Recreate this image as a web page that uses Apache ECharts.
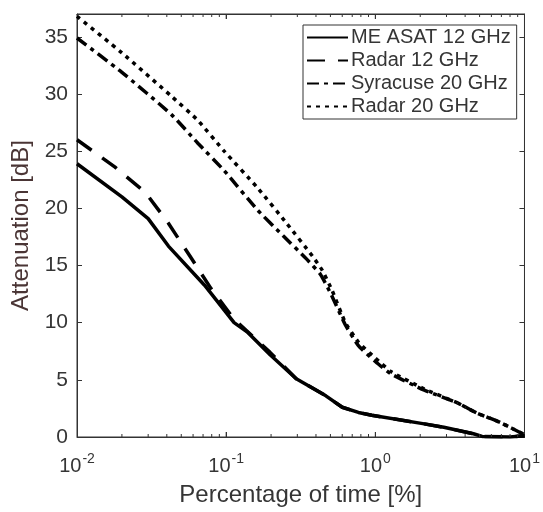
<!DOCTYPE html>
<html><head><meta charset="utf-8">
<script src="https://cdn.jsdelivr.net/npm/echarts@6/dist/echarts.min.js"></script>
<style>html,body{margin:0;padding:0;background:#fff}#c{width:543px;height:512px}</style>
</head><body><div id="c"></div>
<script>
const seriesNames = ['ME ASAT 12 GHz', 'Radar 12 GHz', 'Syracuse 20 GHz', 'Radar 20 GHz'];
const xTickLabels = ['10^-2', '10^-1', '10^0', '10^1'];
const xMajorTicks = [0.1, 1];
const yTickLabels = [0, 5, 10, 15, 20, 25, 30, 35];
const xMinorTicks = [0.02, 0.03, 0.04, 0.05, 0.06, 0.07, 0.08, 0.09, 0.2, 0.3, 0.4, 0.5, 0.6, 0.7, 0.8, 0.9, 2, 3, 4, 5, 6, 7, 8, 9];

const measatX = [0.01, 0.02, 0.03, 0.041, 0.0714, 0.113, 0.138, 0.197, 0.295, 0.466, 0.6, 0.77, 0.946, 2.13, 2.88, 4.55, 5.2, 8, 10];
const measatY = [23.9, 21.0, 19.1, 16.7, 13.3, 10.0, 9.2, 7.2, 5.1, 3.6, 2.6, 2.15, 1.9, 1.15, 0.85, 0.28, 0.05, 0.0, 0.1];

const radar12X = [0.01, 0.018, 0.0287, 0.041, 0.058, 0.079, 0.113, 0.197, 0.295, 0.466, 0.6, 0.77, 0.946, 2.13, 2.88, 4.55, 5.2, 8, 10];
const radar12Y = [26.0, 23.6, 21.4, 18.7, 15.7, 13.0, 10.3, 7.4, 5.1, 3.6, 2.6, 2.15, 1.9, 1.15, 0.85, 0.28, 0.05, 0.0, 0.1];

const syracuseX = [0.01, 0.02, 0.043, 0.0646, 0.097, 0.161, 0.241, 0.344, 0.43, 0.5, 0.63, 0.77, 1.0, 1.28, 2.13, 3.53, 4.79, 6.8, 10];
const syracuseY = [34.9, 31.9, 28.2, 25.7, 23.3, 19.9, 17.6, 15.6, 14.2, 12.6, 9.8, 8.0, 6.6, 5.5, 4.1, 3.0, 2.1, 1.3, 0.2];

const radar20X = [0.01, 0.02, 0.043, 0.0646, 0.097, 0.161, 0.254, 0.38, 0.44, 0.51, 0.63, 0.77, 1.0, 1.28, 2.13, 3.53, 4.79, 6.8, 10];
const radar20Y = [36.8, 33.6, 29.8, 27.7, 25.0, 21.85, 18.7, 15.8, 14.6, 12.9, 10.0, 8.3, 6.9, 5.7, 4.2, 3.0, 2.1, 1.3, 0.2];

function pairs(xs, ys) { return xs.map((x, i) => [x, ys[i]]); }

const Y_MIN = 0, Y_MAX = 37;
const txt = '#353535';
const font = 'Liberation Sans, Arial, sans-serif';
const chart = echarts.init(document.getElementById('c'), null, {renderer: 'canvas'});

const logBase = {
  type: 'log', logBase: 10, min: 0.01, max: 10,
  axisLine: {show: true, onZero: false, lineStyle: {color: '#333', width: 1}},
  axisTick: {show: true, inside: true, length: 5, lineStyle: {color: '#333'}},
  splitLine: {show: false}
};
const valBase = {
  type: 'value', min: Y_MIN, max: Y_MAX, interval: 5,
  axisLine: {show: true, onZero: false, lineStyle: {color: '#333', width: 1}},
  axisTick: {show: true, inside: true, length: 5, customValues: yTickLabels, lineStyle: {color: '#333'}},
  splitLine: {show: false}
};

const lineTypes = ['solid', [18, 13], [12, 5, 4, 5], [4, 5]];
const datas = [pairs(measatX, measatY), pairs(radar12X, radar12Y), pairs(syracuseX, syracuseY), pairs(radar20X, radar20Y)];
const order = [1, 0, 2, 3];

// small frame tick marks placed through the x scale, as thin rect symbols
function tickMarks(values, yv, len, dir) {
  return {
    type: 'scatter', silent: true, z: 6, clip: false,
    xAxisIndex: 0, yAxisIndex: 0,
    data: values.map(v => [v, yv]),
    symbol: 'rect', symbolSize: [1, len], symbolOffset: [0, dir * len / 2],
    itemStyle: {color: '#333', opacity: 1},
    emphasis: {disabled: true}
  };
}

const lineSeries = order.map(i => ({
  name: seriesNames[i], type: 'line', xAxisIndex: 0, yAxisIndex: 0,
  data: datas[i], symbol: 'none', smooth: i >= 2 ? 0.15 : false, z: 3,
  lineStyle: {color: '#000', width: 3.5, type: lineTypes[i], cap: 'butt'},
  itemStyle: {color: '#000'}
}));

chart.setOption({
  animation: false,
  backgroundColor: '#fff',
  grid: {left: 77, right: 11, top: 14, bottom: 67, show: true, borderColor: '#333', borderWidth: 1, backgroundColor: '#fff'},
  legend: {
    orient: 'vertical', left: 303, top: 25,
    data: seriesNames,
    itemWidth: 41, itemHeight: 12, itemGap: 0,
    padding: [1, 6, 1, 3],
    backgroundColor: '#fff', borderColor: '#333', borderWidth: 1,
    itemStyle: {opacity: 0},
    textStyle: {fontFamily: font, fontSize: 20, color: txt, lineHeight: 23, padding: [0, 0, 0, -2]}
  },
  xAxis: [
    Object.assign({}, logBase, {
      position: 'bottom',
      name: 'Percentage of time [%]', nameLocation: 'middle', nameGap: 46,
      nameTextStyle: {fontFamily: font, fontSize: 24, color: txt},
      axisLabel: {
        margin: 15,
        formatter: function (v) {
          const e = Math.round(Math.log10(v));
          const lab = xTickLabels.find(s => s === '10^' + e) || ('10^' + e);
          const p = lab.split('^');
          return '{b|' + p[0] + '}{s|' + p[1] + '}';
        },
        rich: {
          b: {fontFamily: font, fontSize: 20, color: txt, lineHeight: 24, verticalAlign: 'bottom'},
          s: {fontFamily: font, fontSize: 14, color: txt, lineHeight: 24, verticalAlign: 'top', padding: [0, 0, 0, 1]}
        }
      }
    }),
    Object.assign({}, logBase, {position: 'top', axisLabel: {show: false}})
  ],
  yAxis: [
    Object.assign({}, valBase, {
      position: 'left',
      name: 'Attenuation [dB]', nameLocation: 'middle', nameGap: 36,
      nameTextStyle: {fontFamily: font, fontSize: 24, color: '#4a3535'},
      axisLabel: {margin: 9, fontFamily: font, fontSize: 21, color: txt,
        customValues: yTickLabels, formatter: v => String(v)}
    }),
    Object.assign({}, valBase, {position: 'right', axisLabel: {show: false}})
  ],
  series: lineSeries.concat([
    tickMarks(xMinorTicks, Y_MIN, 3, -1), tickMarks(xMinorTicks, Y_MAX, 3, 1),
    tickMarks(xMajorTicks, Y_MIN, 5, -1), tickMarks(xMajorTicks, Y_MAX, 5, 1)
  ])
});
</script></body></html>
